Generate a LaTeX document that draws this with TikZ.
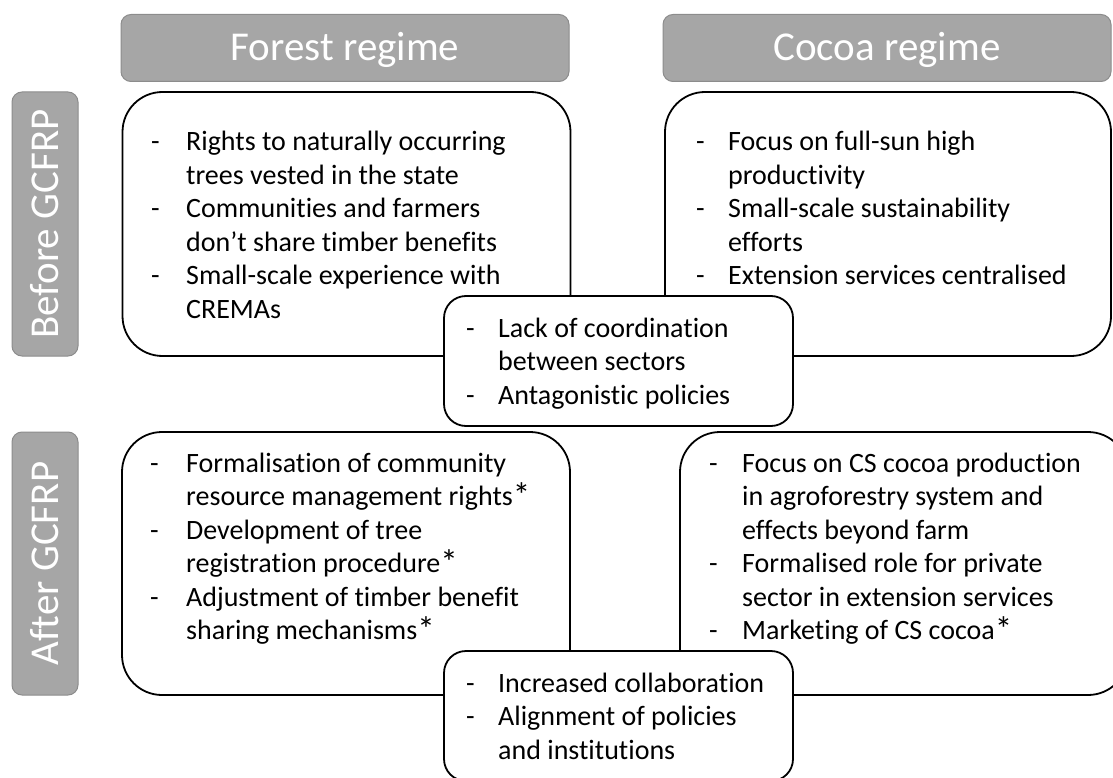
\documentclass[tikz,border=0pt]{standalone}
\usepackage{fontspec}
\setmainfont{Carlito}[Ligatures=NoCommon]
\usepackage{xcolor}
\usepackage{graphicx}

\definecolor{hdrgray}{RGB}{166,166,166}
\definecolor{hdrline}{RGB}{140,140,140}
\newcommand{\astk}{\smash{\raisebox{-1.5pt}{\scalebox{1.25}{*}}}}

\tikzset{
  header/.style={draw=hdrline, line width=1pt, fill=hdrgray, rounded corners=10pt,
    text=white, font=\fontsize{41}{48}\selectfont, text height=26pt, text depth=0pt, inner sep=0pt},
  regime/.style={draw=black, line width=1.8pt, fill=white, rounded corners=40pt,
    inner sep=0pt, minimum width=448pt, minimum height=264pt},
  joint/.style={draw=black, line width=1.8pt, fill=white, rounded corners=22pt,
    inner sep=0pt, minimum width=349pt, minimum height=130pt},
  items/.style={anchor=base west, inner sep=0pt, font=\fontsize{28}{33.5}\selectfont},
}

\begin{document}
\begin{tikzpicture}[x=1pt, y=-1pt]
  \useasboundingbox (0,0) rectangle (1113,778);
  \clip (0,0) rectangle (1113,778);

  % column and row headers
  \node[header, minimum width=448pt, minimum height=67pt] (forest) at (345,48) {Forest regime};
  \node[header, minimum width=448pt, minimum height=67pt] (cocoa) at (887,48) {Cocoa regime};
  \node[header, rotate=90, minimum width=264pt, minimum height=66pt] (before) at (45,224) {Before GCFRP};
  \node[header, rotate=90, minimum width=263pt, minimum height=66pt] (after) at (45,563.5) {After GCFRP};

  % regime boxes
  \node[regime] (fb) at (346.5,224) {};
  \node[regime, minimum width=446pt] (cb) at (888,224) {};
  \node[regime, minimum height=263pt] (fa) at (346,563.5) {};
  \node[regime, minimum height=263pt] (ca) at (904,563.5) {};

  % boxes shared by both regimes
  \node[joint] (jb) at (618.5,361) {};
  \node[joint] (ja) at (618.5,716) {};

  % box texts
  \node[items] (fbtxt) at (151,151) {\begin{tabular}[t]{@{}p{35pt}@{}l@{}}
    - & Rights to naturally occurring \\
      & trees vested in the state \\
    - & Communities and farmers \\
      & don’t share timber benefits \\
    - & Small-scale experience with \\
      & CREMAs
  \end{tabular}};
  \node[items] (cbtxt) at (696,151) {\begin{tabular}[t]{@{}p{32pt}@{}l@{}}
    - & Focus on full-sun high \\
      & productivity \\
    - & Small-scale sustainability \\
      & efforts \\
    - & Extension services centralised
  \end{tabular}};
  \node[items] (jbtxt) at (466,337) {\begin{tabular}[t]{@{}p{32pt}@{}l@{}}
    - & Lack of coordination \\
      & between sectors \\
    - & Antagonistic policies
  \end{tabular}};
  \node[items] (fatxt) at (150,472) {\begin{tabular}[t]{@{}p{36pt}@{}l@{}}
    - & Formalisation of community \\
      & resource management rights\astk \\
    - & Development of tree \\
      & registration procedure\astk \\
    - & Adjustment of timber benefit \\
      & sharing mechanisms\astk
  \end{tabular}};
  \node[items] (catxt) at (709,472) {\begin{tabular}[t]{@{}p{33pt}@{}l@{}}
    - & Focus on CS cocoa production \\
      & in agroforestry system and \\
      & effects beyond farm \\
    - & Formalised role for private \\
      & sector in extension services \\
    - & Marketing of CS cocoa\astk
  \end{tabular}};
  \node[items] (jatxt) at (466,692) {\begin{tabular}[t]{@{}p{32pt}@{}l@{}}
    - & Increased collaboration \\
    - & Alignment of policies \\
      & and institutions
  \end{tabular}};
\end{tikzpicture}
\end{document}
